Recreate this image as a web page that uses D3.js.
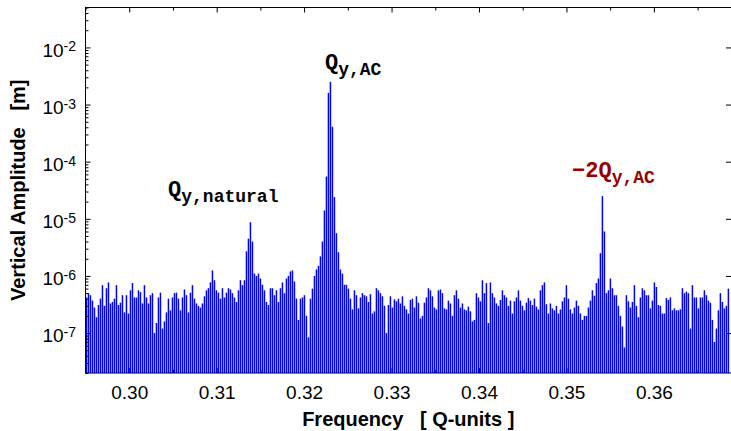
<!DOCTYPE html>
<html>
<head>
<meta charset="utf-8">
<script src="https://cdn.jsdelivr.net/npm/d3@7"></script>
<style>
  body { margin: 0; background: #fff; }
  text { white-space: pre; }
</style>
</head>
<body>
<div id="root"></div>
<script>
// FFT bin grid (Q-units)
const binStart = 0.29511;
const binStep = 0.0002287;

// vertical amplitude per bin [m]
const amplitude = [
  4.2e-7, 5.0e-7, 4.6e-7, 3.7e-7, 2.8e-7, 1.9e-7, 3.1e-7, 4.0e-7, 6.9e-7, 3.0e-7,
  6.1e-7, 7.7e-7, 3.3e-7, 3.5e-7, 4.0e-7, 6.9e-7, 3.1e-7, 3.4e-7, 4.6e-7, 2.3e-7,
  4.6e-7, 2.2e-7, 5.6e-7, 7.5e-7, 4.2e-7, 4.2e-7, 5.6e-7, 5.2e-7, 3.3e-7, 6.9e-7,
  4.2e-7, 3.3e-7, 4.6e-7, 5.0e-7, 1.0e-7, 1.5e-7, 4.2e-7, 5.1e-7, 1.2e-7, 1.6e-7,
  2.3e-7, 4.0e-7, 2.5e-7, 4.2e-7, 5.0e-7, 5.1e-7, 4.0e-7, 2.5e-7, 4.2e-7, 5.8e-7,
  4.6e-7, 2.3e-7, 5.1e-7, 6.9e-7, 4.0e-7, 3.3e-7, 3.0e-7, 2.8e-7, 3.3e-7, 4.4e-7,
  5.6e-7, 6.1e-7, 7.7e-7, 1.25e-6, 8.4e-7, 5.6e-7, 5.1e-7, 4.0e-7, 6.1e-7, 4.2e-7,
  5.1e-7, 6.1e-7, 5.8e-7, 5.0e-7, 4.2e-7, 3.5e-7, 5.6e-7, 8.4e-7, 6.9e-7, 8.4e-7,
  2.7e-6, 4.5e-6, 8.7e-6, 4.0e-6, 1.1e-6, 1.0e-6, 1.1e-6, 9.0e-7, 7.0e-7, 5.6e-7,
  3.5e-7, 3.1e-7, 6.1e-7, 6.1e-7, 4.6e-7, 5.6e-7, 3.5e-7, 6.1e-7, 7.7e-7, 5.0e-7,
  9.0e-7, 1.0e-6, 1.2e-6, 1.25e-6, 8.0e-7, 4.0e-7, 1.7e-7, 4.0e-7, 4.2e-7, 4.6e-7,
  2.0e-7, 8.4e-8, 4.0e-7, 6.0e-7, 1.0e-6, 1.3e-6, 1.5e-6, 2.2e-6, 4.0e-6, 1.4e-5,
  5.5e-5, 1.6e-3, 2.5e-3, 4.1e-4, 2.4e-5, 5.6e-6, 2.6e-6, 1.3e-6, 1.1e-6, 7.0e-7,
  7.0e-7, 6.0e-7, 4.0e-7, 2.6e-7, 5.6e-7, 4.6e-7, 2.7e-7, 4.2e-7, 5.0e-7, 4.6e-7,
  4.4e-7, 3.5e-7, 4.8e-7, 2.2e-7, 2.4e-7, 6.1e-7, 5.6e-7, 5.0e-7, 4.4e-7, 3.0e-7,
  1.0e-7, 3.1e-7, 4.4e-7, 2.8e-7, 3.9e-7, 3.6e-7, 4.0e-7, 3.3e-7, 4.4e-7, 3.0e-7,
  2.6e-7, 2.2e-7, 3.8e-7, 4.0e-7, 2.8e-7, 4.4e-7, 3.4e-7, 1.8e-7, 2.0e-7, 3.4e-7,
  4.2e-7, 6.1e-7, 5.6e-7, 4.4e-7, 2.8e-7, 2.6e-7, 5.6e-7, 5.8e-7, 5.0e-7, 2.7e-7,
  2.6e-7, 3.7e-7, 3.3e-7, 2.0e-7, 4.6e-7, 5.6e-7, 4.0e-7, 2.8e-7, 3.3e-7, 2.6e-7,
  2.5e-7, 2.9e-7, 2.4e-7, 1.6e-7, 1.7e-7, 5.0e-7, 4.2e-7, 3.6e-7, 8.4e-7, 5.0e-7,
  7.5e-7, 1.5e-7, 7.7e-7, 5.0e-7, 4.2e-7, 3.3e-7, 3.0e-7, 3.8e-7, 5.6e-7, 4.6e-7,
  4.2e-7, 3.0e-7, 3.7e-7, 2.2e-7, 3.6e-7, 4.2e-7, 5.6e-7, 3.7e-7, 3.0e-7, 2.5e-7,
  3.4e-7, 4.1e-7, 3.7e-7, 3.1e-7, 4.0e-7, 2.9e-7, 2.6e-7, 5.6e-7, 6.9e-7, 7.7e-7,
  3.2e-7, 2.2e-7, 3.3e-7, 2.7e-7, 2.5e-7, 3.0e-7, 2.2e-7, 2.6e-7, 3.6e-7, 4.2e-7,
  6.9e-7, 4.0e-7, 2.6e-7, 2.2e-7, 2.8e-7, 3.7e-7, 3.0e-7, 2.2e-7, 1.7e-7, 2.0e-7,
  2.0e-7, 2.8e-7, 3.7e-7, 5.6e-7, 4.5e-7, 7.5e-7, 9.0e-7, 2.5e-6, 2.5e-5, 6.0e-6,
  5.0e-7, 5.6e-7, 9.0e-7, 6.1e-7, 4.6e-7, 4.6e-7, 3.0e-7, 2.0e-7, 1.3e-7, 5.6e-8,
  4.6e-7, 3.6e-7, 2.8e-7, 3.5e-7, 6.9e-7, 3.0e-7, 1.9e-7, 4.2e-7, 6.1e-7, 5.6e-7,
  4.6e-7, 4.6e-7, 2.7e-7, 3.7e-7, 7.7e-7, 6.4e-7, 3.1e-7, 3.0e-7, 2.2e-7, 2.2e-7,
  4.1e-7, 3.8e-7, 4.2e-7, 2.5e-7, 2.7e-7, 2.5e-7, 2.5e-7, 2.6e-7, 6.1e-7, 5.0e-7,
  5.3e-7, 5.0e-7, 1.2e-7, 6.9e-7, 4.2e-7, 4.2e-7, 2.7e-7, 4.2e-7, 4.2e-7, 5.6e-7,
  4.6e-7, 3.7e-7, 3.4e-7, 1.7e-7, 7.0e-8, 1.2e-7, 2.5e-7, 5.0e-7, 3.5e-7, 2.7e-7,
  3.0e-7, 6.0e-7
];

const xTickValues = [0.30, 0.31, 0.32, 0.33, 0.34, 0.35, 0.36];
const yTickValues = [1e-7, 1e-6, 1e-5, 1e-4, 1e-3, 1e-2];
const yTickExps = ["-7", "-6", "-5", "-4", "-3", "-2"];

// peak annotations: main text, subscript, anchor (freq, amplitude), colour
const peakLabels = ["Q", "Q", "\u22122Q"];
const peakSubs = ["y,natural", "y,AC", "y,AC"];
const peakFreqs = [0.30444, 0.32239, 0.35064];
const peakAmps = [2.5e-5, 4.2e-3, 5.3e-5];
const peakColors = ["#000", "#000", "#990000"];

const width = 731, height = 431;
const plot = { left: 85.5, top: 7.5, right: 731, bottom: 373 };
const tickFont = "Arial, 'Liberation Sans', Helvetica, sans-serif";
const monoFont = "'Courier New', 'Liberation Mono', monospace";

const svg = d3.select("#root").append("svg")
  .attr("width", width)
  .attr("height", height);

const x = d3.scaleLinear().domain([0.295, 0.36882]).range([plot.left, plot.right]);
const y = d3.scaleLog().domain([2e-8, 5e-2]).range([plot.bottom, plot.top]);

const minorX = x.ticks(15).filter(d => !xTickValues.some(t => Math.abs(t - d) < 1e-9));
const minorY = y.ticks().filter(d => !yTickValues.some(t => Math.abs(t - d) / t < 1e-6));

// bottom axis ticks go under the bars
const bottomAxis = svg.append("g")
  .attr("transform", "translate(0," + plot.bottom + ")")
  .call(d3.axisBottom(x).tickValues(xTickValues).tickSize(-5).tickPadding(13)
    .tickFormat(d3.format(".2f")));
svg.append("g")
  .attr("transform", "translate(0," + plot.bottom + ")")
  .call(d3.axisBottom(x).tickValues(minorX).tickSize(-3).tickFormat(""));

// spectrum bars
svg.append("g")
  .selectAll("rect")
  .data(amplitude)
  .join("rect")
  .attr("x", (d, i) => x(binStart + i * binStep) - 0.75)
  .attr("width", 1.5)
  .attr("y", d => y(d))
  .attr("height", d => plot.bottom - y(d))
  .attr("fill", "#0000ff");

// top axis
svg.append("g")
  .attr("transform", "translate(0," + plot.top + ")")
  .call(d3.axisTop(x).tickValues(xTickValues).tickSize(-5).tickFormat(""));
svg.append("g")
  .attr("transform", "translate(0," + plot.top + ")")
  .call(d3.axisTop(x).tickValues(minorX).tickSize(-3).tickFormat(""));

// left axis
svg.append("g")
  .attr("transform", "translate(" + plot.left + ",0)")
  .call(d3.axisLeft(y).tickValues(yTickValues).tickSize(-5).tickFormat(""));
svg.append("g")
  .attr("transform", "translate(" + plot.left + ",0)")
  .call(d3.axisLeft(y).tickValues(minorY).tickSize(-3).tickFormat(""));

// right axis, majors only
svg.append("g")
  .attr("transform", "translate(" + plot.right + ",0)")
  .call(d3.axisRight(y).tickValues(yTickValues).tickSize(-5).tickFormat(""));

svg.selectAll(".domain").remove();
svg.selectAll(".tick line").attr("stroke", "#000");

bottomAxis.selectAll("text")
  .attr("font-family", tickFont)
  .attr("font-size", 19)
  .attr("fill", "#000");

// y tick labels as 10^n
const yLabels = svg.append("g")
  .attr("font-family", tickFont)
  .attr("fill", "#000")
  .attr("text-anchor", "end");
yTickValues.forEach((v, i) => {
  const t = yLabels.append("text")
    .attr("x", plot.left - 9.5)
    .attr("y", y(v) + 9.3);
  t.append("tspan").attr("font-size", 19).text("10");
  t.append("tspan").attr("font-size", 14).attr("dy", -5.3).text(yTickExps[i]);
});

// frame
svg.append("rect")
  .attr("x", plot.left)
  .attr("y", plot.top)
  .attr("width", plot.right - plot.left + 2)
  .attr("height", plot.bottom - plot.top)
  .attr("fill", "none")
  .attr("stroke", "#000")
  .attr("stroke-width", 1);

// axis titles
svg.append("text")
  .attr("x", (plot.left + plot.right) / 2)
  .attr("y", 426)
  .attr("text-anchor", "middle")
  .attr("font-family", tickFont)
  .attr("font-weight", "bold")
  .attr("font-size", 20)
  .text("Frequency   [ Q-units ]");

svg.append("text")
  .attr("transform", "translate(25," + ((plot.top + plot.bottom) / 2) + ") rotate(-90)")
  .attr("text-anchor", "middle")
  .attr("font-family", tickFont)
  .attr("font-weight", "bold")
  .attr("font-size", 20)
  .text("Vertical Amplitude   [m]");

// peak labels
peakLabels.forEach((lab, i) => {
  const t = svg.append("text")
    .attr("x", x(peakFreqs[i]))
    .attr("y", y(peakAmps[i]))
    .attr("font-family", monoFont)
    .attr("font-weight", "bold")
    .attr("fill", peakColors[i]);
  t.append("tspan").attr("font-size", 22).text(lab);
  t.append("tspan").attr("font-size", 18).attr("dy", 6).text(peakSubs[i]);
});
</script>
</body>
</html>
